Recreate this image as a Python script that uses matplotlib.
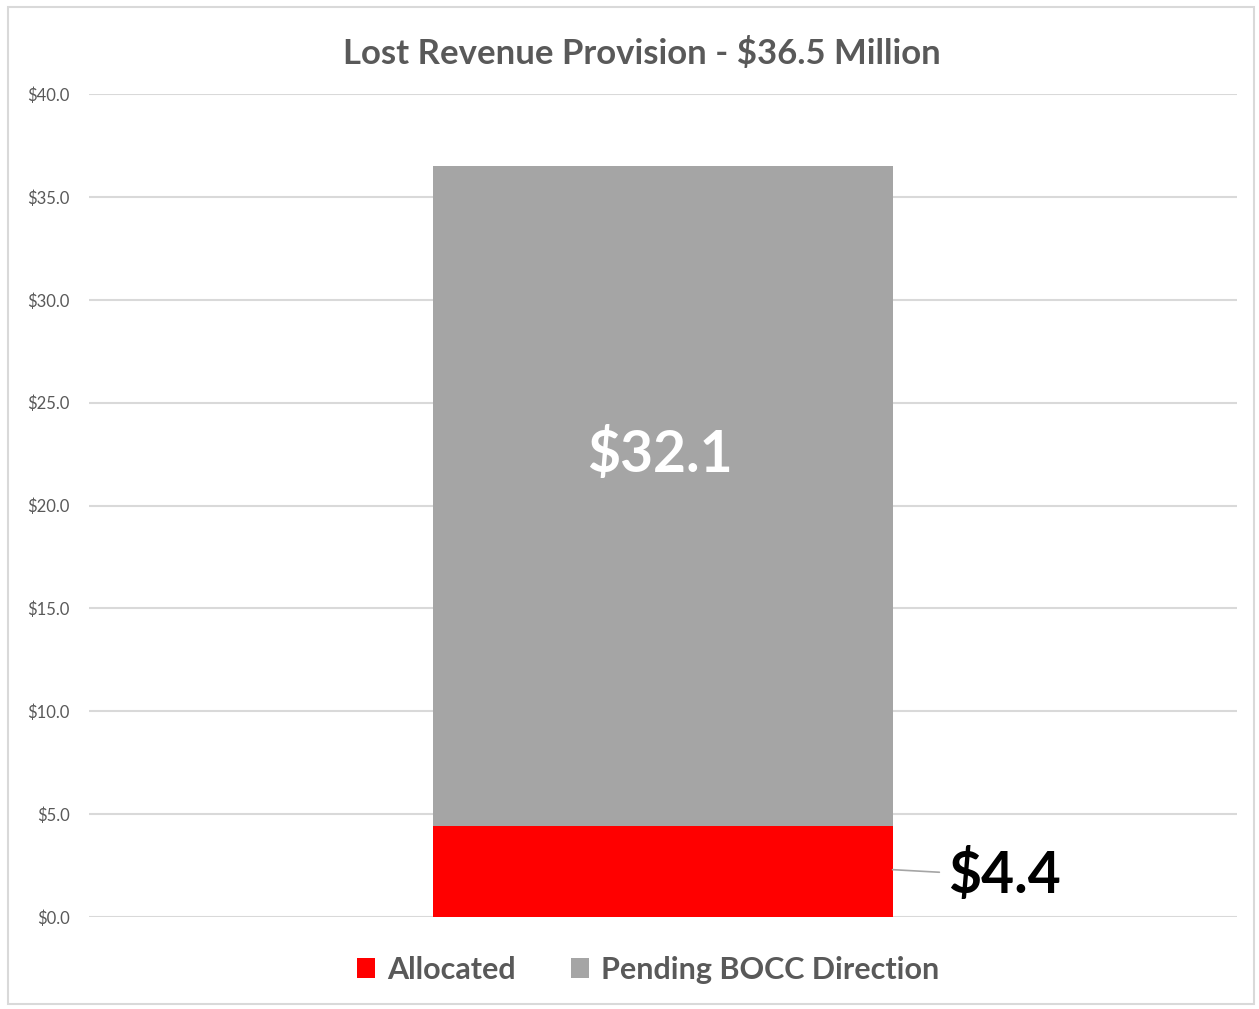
import matplotlib.pyplot as plt
from matplotlib.patches import Rectangle

# chart data
category = ['Lost Revenue']
allocated = [4.4]
pending = [32.1]
series_names = ['Allocated', 'Pending BOCC Direction']
y_ticks = [0, 5, 10, 15, 20, 25, 30, 35, 40]

plt.rcParams['font.family'] = ['Lato', 'DejaVu Sans']
txt_color = '#595959'

fig = plt.figure(figsize=(12.59, 10.09), dpi=100)
ax = fig.add_axes([0.0707, 0.0912, 0.9118, 0.8156])

x = [0]
ax.bar(x, allocated, width=0.4, color='#ff0000', label=series_names[0], zorder=3)
ax.bar(x, pending, width=0.4, bottom=allocated, color='#a5a5a5', label=series_names[1], zorder=3)

ax.set_xlim(-0.5, 0.5)
ax.set_ylim(0, 40)
ax.set_yticks(y_ticks)
ax.set_yticklabels(['${:.1f}'.format(v) for v in y_ticks], color=txt_color, fontsize=12)
ax.set_xticks([])
ax.tick_params(axis='y', length=0, pad=14)
ax.grid(axis='y', color='#d9d9d9', linewidth=1.5, zorder=0)
for s in ax.spines.values():
    s.set_visible(False)

# data labels
ax.annotate('${:.1f}'.format(pending[0]), xy=(0, allocated[0] + pending[0] / 2),
            xytext=(-2, 30), textcoords='offset points', color='white',
            fontsize=41, fontweight='bold', ha='center', va='center', zorder=4)
ax.annotate('${:.1f}'.format(allocated[0]), xy=(0.2, allocated[0] / 2 + 0.1),
            xytext=(0.248, allocated[0] / 2 - 0.2), color='black', fontsize=41,
            fontweight='bold', ha='left', va='center',
            arrowprops=dict(arrowstyle='-', color='#a5a5a5', lw=1.2, shrinkA=4, shrinkB=0))

fig.text(0.5095, 0.947, 'Lost Revenue Provision - $36.5 Million', color=txt_color,
         fontsize=25, fontweight='bold', ha='center', va='center')

leg = fig.legend(loc='center', bbox_to_anchor=(0.5147, 0.039), ncol=2, frameon=False,
                 fontsize=22, handlelength=0.6, handleheight=0.6, columnspacing=1.8,
                 handletextpad=0.4)
for t in leg.get_texts():
    t.set_color(txt_color)
    t.set_fontweight('bold')

fig.patches.append(Rectangle((0.006, 0.005), 0.99, 0.988, transform=fig.transFigure,
                             fill=False, edgecolor='#d9d9d9', linewidth=1.5))

fig.savefig('out.png', dpi=100)
